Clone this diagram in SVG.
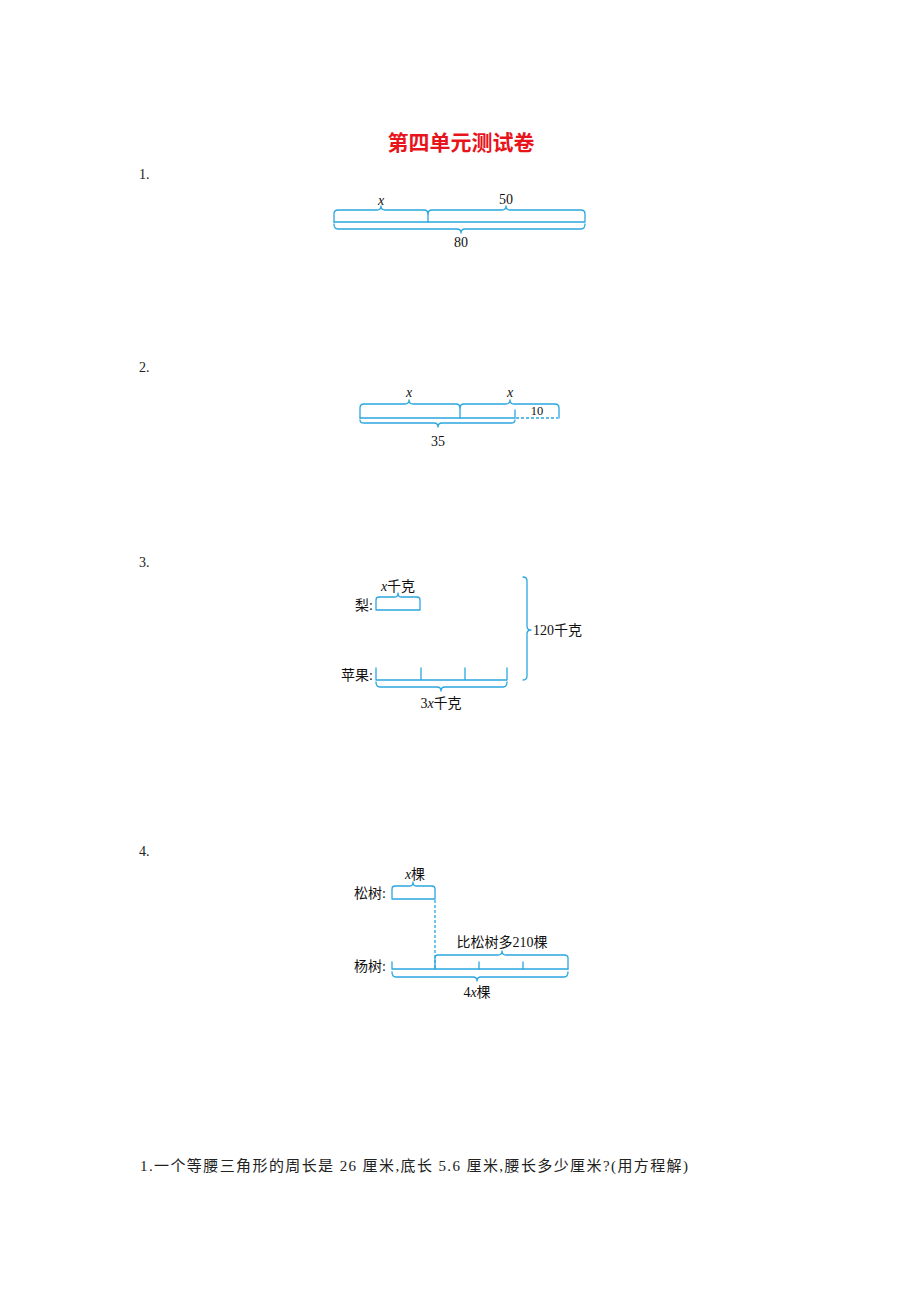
<svg xmlns="http://www.w3.org/2000/svg" width="920" height="1302" viewBox="0 0 920 1302">
<style>
.ln{fill:none;stroke:#2aa7e0;stroke-width:1.3;stroke-linejoin:round;stroke-linecap:round}
.ds{fill:none;stroke:#2aa7e0;stroke-width:1.3;stroke-dasharray:3 2}
.t{font-family:"Liberation Serif","Noto Sans CJK SC",serif;font-size:14px;fill:#111}
.c{text-anchor:middle}
.e{text-anchor:end}
.i{font-style:italic}
.num{font-family:"Liberation Serif","Noto Sans CJK SC",serif;font-size:14px;fill:#222}
</style>
<rect width="920" height="1302" fill="#fff"/>
<g id="title"><text x="461" y="150" text-anchor="middle" style="font-family:'Noto Sans CJK SC',sans-serif;font-size:21px;font-weight:bold;fill:#e8141c">第四单元测试卷</text></g>
<g id="numbers">
<text class="num" x="139" y="179">1.</text>
<text class="num" x="139" y="372">2.</text>
<text class="num" x="139" y="567">3.</text>
<text class="num" x="139" y="856">4.</text>
</g>
<g id="connectors">
<!-- diagram 1 -->
<path class="ln" d="M334,222 V214 Q334,210 338,210 H377 Q381,210 381,206 Q381,210 385,210 H424 Q428,210 428,214 V222"/>
<path class="ln" d="M428,214 Q428,210 432,210 H502 Q506,210 506,206 Q506,210 510,210 H581 Q585,210 585,214 V222 H334"/>
<path class="ln" d="M334,224 Q334,229 338,229 H457 Q461,229 461,233 Q461,229 465,229 H581 Q585,229 585,224"/>
<!-- diagram 2 -->
<path class="ln" d="M360,418 V408 Q360,404 364,404 H405 Q409,404 409,400 Q409,404 413,404 H456 Q460,404 460,408 V418"/>
<path class="ln" d="M460,408 Q460,404 464,404 H506 Q510,404 510,400 Q510,404 514,404 H555 Q559,404 559,408 V418"/>
<path class="ln" d="M360,418 H515 V410"/>
<path class="ds" d="M516,418 H558"/>
<path class="ln" d="M360,420 Q360,423 364,423 H434 Q438,423 438,427 Q438,423 442,423 H511 Q515,423 515,420"/>
<!-- diagram 3 -->
<path class="ln" d="M376,610 V600 Q376,597 379,597 H395 Q398,597 398,593 Q398,597 401,597 H417 Q420,597 420,600 V610 Z"/>
<path class="ln" d="M376,668 V680 H507 V668 M421,668 V680 M465,668 V680"/>
<path class="ln" d="M376,682 Q376,687 380,687 H437 Q441,687 441,691 Q441,687 445,687 H503 Q507,687 507,682"/>
<path class="ln" d="M523,577 Q527,577 527,581 V626 Q527,630 531,630 Q527,630 527,634 V676 Q527,680 523,680"/>
<!-- diagram 4 -->
<path class="ln" d="M392,899 V889 Q392,886 395,886 H410 Q413,886 413,882 Q413,886 416,886 H432 Q435,886 435,889 V899 Z"/>
<path class="ds" d="M435,900 V968"/>
<path class="ln" d="M392,962 V969 H568"/>
<path class="ln" d="M435,969 V958 Q435,955 438,955 H498 Q502,955 502,951 Q502,955 506,955 H564 Q568,955 568,958 V969 M479,962 V969 M523,962 V969"/>
<path class="ln" d="M392,972 Q392,977 396,977 H473 Q477,977 477,981 Q477,977 481,977 H564 Q568,977 568,972"/>
</g>
<g id="d1-labels">
<text class="t c i" x="381" y="205">x</text>
<text class="t c" x="506" y="204">50</text>
<text class="t c" x="461" y="247">80</text>
</g>
<g id="d2-labels">
<text class="t c i" x="409" y="397">x</text>
<text class="t c i" x="510" y="397">x</text>
<text class="t c" x="537" y="415" style="font-size:12.5px">10</text>
<text class="t c" x="438" y="446">35</text>
</g>
<g id="d3-labels">
<text class="t c" x="398" y="591"><tspan class="i">x</tspan>千克</text>
<text class="t e" x="373" y="610">梨:</text>
<text class="t e" x="373" y="680">苹果:</text>
<text class="t c" x="441" y="708">3<tspan class="i">x</tspan>千克</text>
<text class="t" x="533" y="635">120千克</text>
</g>
<g id="d4-labels">
<text class="t c" x="415" y="879"><tspan class="i">x</tspan>棵</text>
<text class="t e" x="386" y="898">松树:</text>
<text class="t e" x="386" y="971">杨树:</text>
<text class="t c" x="502" y="947">比松树多210棵</text>
<text class="t c" x="477" y="997">4<tspan class="i">x</tspan>棵</text>
</g>
<g id="question">
<text x="140" y="1171" textLength="548" lengthAdjust="spacing" style="font-family:'Liberation Serif','Noto Sans CJK SC',serif;font-size:15px;fill:#222">1.一个等腰三角形的周长是 26 厘米,底长 5.6 厘米,腰长多少厘米?(用方程解)</text>
</g>
</svg>
